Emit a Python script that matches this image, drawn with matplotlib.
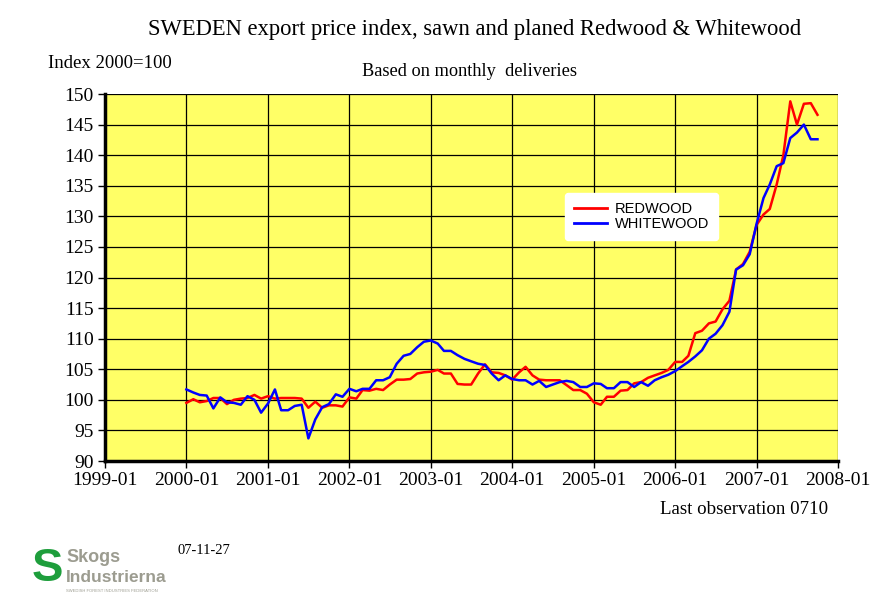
import matplotlib
matplotlib.use("Agg")
import matplotlib.pyplot as plt
import pandas as pd

# ---- data ----
start_month = "2000-01"
redwood = [
    99.5, 100.1, 99.6, 99.8, 100.3, 100.3, 99.3, 100.0, 100.2, 100.3, 100.8, 100.2,
    100.6, 100.2, 100.3, 100.3, 100.3, 100.2, 98.7, 99.7, 98.7, 99.1, 99.1, 98.9,
    100.4, 100.2, 101.6, 101.5, 101.8, 101.6, 102.5, 103.3, 103.3, 103.4, 104.3, 104.5,
    104.6, 104.9, 104.3, 104.3, 102.6, 102.5, 102.5, 104.3, 105.8, 104.5, 104.4, 104.0,
    103.3, 104.5, 105.4, 104.0, 103.3, 103.2, 103.2, 103.2, 102.4, 101.6, 101.6, 101.0,
    99.6, 99.2, 100.5, 100.5, 101.5, 101.6, 102.7, 102.9, 103.6, 104.0, 104.4, 104.9,
    106.2, 106.2, 107.2, 110.9, 111.3, 112.5, 112.8, 114.8, 116.2, 121.3, 122.2, 124.2,
    128.6, 130.3, 131.2, 135.2, 140.0, 148.8, 145.0, 148.4, 148.5, 146.6,
]
whitewood = [
    101.7, 101.2, 100.8, 100.7, 98.6, 100.4, 99.6, 99.5, 99.2, 100.6, 100.0, 97.9,
    99.4, 101.7, 98.3, 98.3, 99.0, 99.2, 93.7, 96.8, 98.8, 99.3, 100.9, 100.5,
    101.8, 101.4, 101.8, 101.8, 103.2, 103.2, 103.7, 105.9, 107.2, 107.5, 108.6, 109.5,
    109.7, 109.2, 108.0, 108.0, 107.3, 106.7, 106.3, 105.9, 105.7, 104.3, 103.2, 104.0,
    103.4, 103.2, 103.2, 102.5, 103.1, 102.1, 102.5, 102.9, 103.1, 102.9, 102.1, 102.1,
    102.7, 102.6, 101.9, 101.9, 102.9, 102.9, 102.1, 102.9, 102.3, 103.2, 103.7, 104.1,
    104.7, 105.5, 106.2, 107.1, 108.1, 110.0, 110.8, 112.2, 114.4, 121.3, 122.0, 123.8,
    128.8, 133.0, 135.2, 138.2, 138.7, 142.8, 143.7, 145.0, 142.6, 142.6,
]
series_labels = ["REDWOOD", "WHITEWOOD"]
x_tick_years = list(range(1999, 2009))
y_ticks = list(range(90, 151, 5))

dates = pd.date_range(start_month, periods=len(redwood), freq="MS")

plt.rcParams["font.family"] = ["Liberation Serif", "DejaVu Serif"]

fig = plt.figure(figsize=(8.82, 6.08), dpi=100)
fig.patch.set_facecolor("white")
ax = fig.add_axes([105 / 882, 1 - 461 / 608, 733 / 882, 367 / 608])
ax.set_facecolor("#FFFF66")

ax.plot(dates, redwood, color="#FF0000", lw=1.8, label=series_labels[0], zorder=3)
ax.plot(dates, whitewood, color="#0000FF", lw=1.8, label=series_labels[1], zorder=3)

xt = [pd.Timestamp(f"{y}-01-01") for y in x_tick_years]
ax.set_xlim(xt[0], xt[-1])
ax.set_xticks(xt)
ax.set_xticklabels([f"{y}-01" for y in x_tick_years])
ax.set_ylim(90, 150)
ax.set_yticks(y_ticks)
ax.set_yticklabels([str(v) for v in y_ticks])

ax.grid(True, color="black", lw=0.9, zorder=1)
ax.set_axisbelow(True)
for s in ["top", "right"]:
    ax.spines[s].set_visible(False)
ax.spines["left"].set_linewidth(2.5)
ax.spines["bottom"].set_linewidth(2.5)
ax.tick_params(axis="both", direction="out", length=5, width=1, labelsize=14, colors="black")
ax.tick_params(axis="y", pad=3)
ax.tick_params(axis="x", pad=3)

leg = ax.legend(loc="upper left", bbox_to_anchor=(0.6276, 0.730), frameon=True,
                fancybox=True, framealpha=1, facecolor="white", edgecolor="white",
                prop={"family": "Liberation Sans", "size": 10.5},
                handlelength=2.3, handletextpad=0.5, labelspacing=0.1,
                borderpad=0.6, borderaxespad=0)
for l in leg.get_lines():
    l.set_linewidth(2)

fig.text(475 / 882, 1 - 30 / 608, "SWEDEN export price index, sawn and planed Redwood & Whitewood",
         ha="center", va="center", fontsize=16.3)
fig.text(48 / 882, 1 - 64 / 608, "Index 2000=100", ha="left", va="center", fontsize=13.5)
fig.text(469 / 882, 1 - 71 / 608, "Based on monthly  deliveries", ha="center", va="center", fontsize=13.2)
fig.text(828 / 882, 1 - 510 / 608, "Last observation 0710", ha="right", va="center", fontsize=13.6)
fig.text(178 / 882, 1 - 551 / 608, "07-11-27", ha="left", va="center", fontsize=10.5)

# logo
fig.text(47 / 882, 1 - 569 / 608, "S", ha="center", va="center", fontsize=34, fontweight="bold",
         color="#1E9E3C", family="Liberation Sans")
fig.text(66 / 882, 1 - 558 / 608, "Skogs", ha="left", va="center", fontsize=13, fontweight="bold",
         color="#9C9C90", family="Liberation Sans")
fig.text(66 / 882, 1 - 577 / 608, "Industrierna", ha="left", va="center", fontsize=12.5, fontweight="bold",
         color="#9C9C90", family="Liberation Sans")
fig.text(66 / 882, 1 - 591 / 608, "SWEDISH FOREST INDUSTRIES FEDERATION", ha="left", va="center",
         fontsize=3, color="#9C9C90", family="Liberation Sans")

fig.savefig("out.png", dpi=100)
